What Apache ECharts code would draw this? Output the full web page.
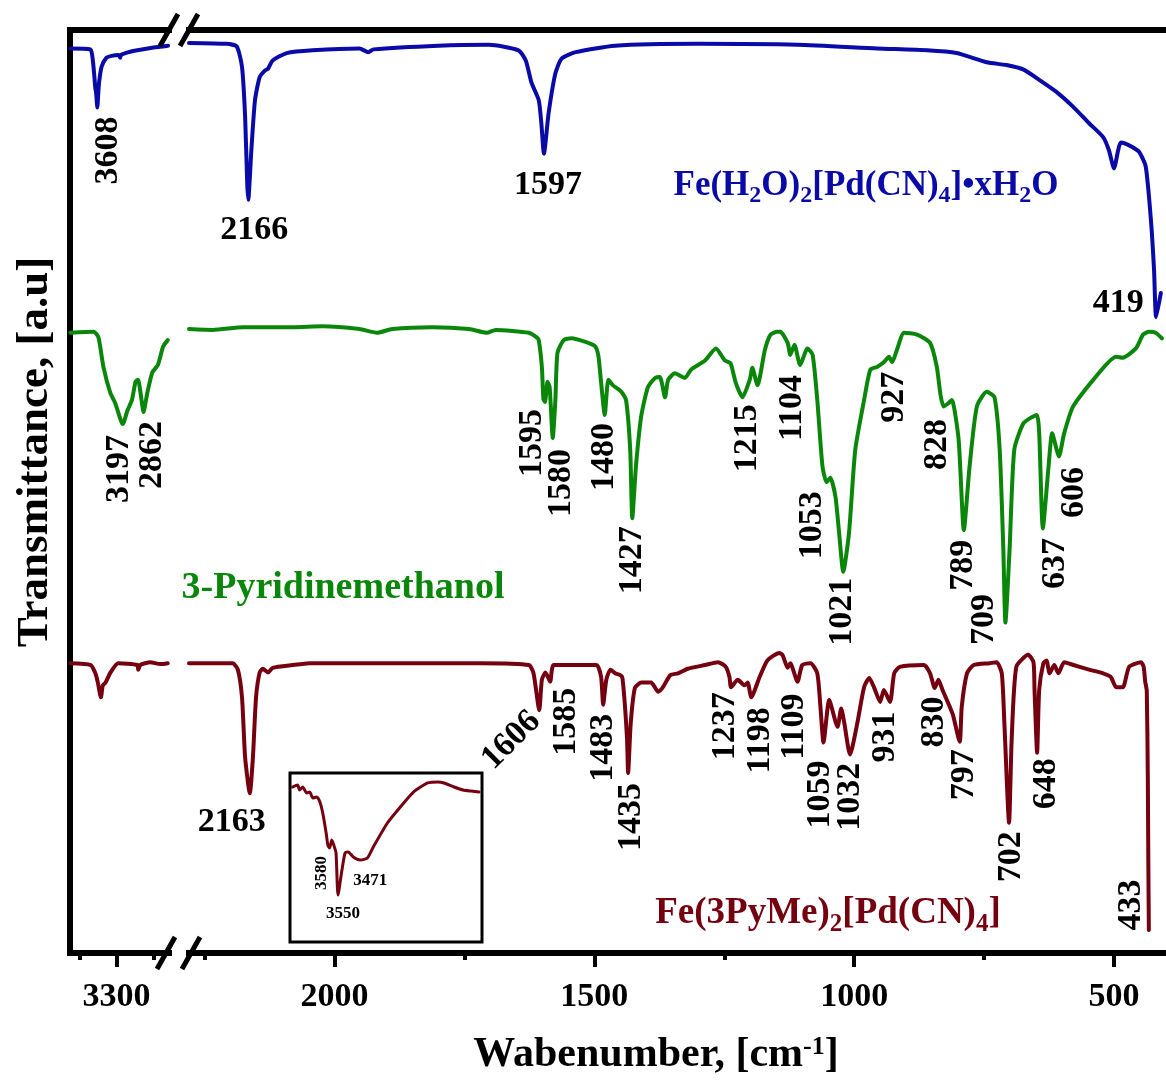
<!DOCTYPE html>
<html>
<head>
<meta charset="utf-8">
<title>FT-IR spectra</title>
<script src="https://cdn.jsdelivr.net/npm/echarts@6/dist/echarts.min.js"></script>
<style>
  html, body { margin: 0; padding: 0; background: #fff; }
  #chart { width: 1166px; height: 1080px; }
</style>
</head>
<body>
<div id="chart"></div>
<script>
// ---- spectra: [wavenumber (cm-1), transmittance (a.u., stacked)] ----
// high-wavenumber segment (left of the axis break)
const blueHigh = [
  [4045, 98.0], [3720, 97.9], [3690, 97.2], [3670, 96.0], [3652, 94.6], [3640, 93.7],
  [3628, 93.2], [3608, 91.6], [3590, 93.5], [3575, 94.6], [3540, 96.0], [3460, 97.0],
  [3380, 97.2], [3260, 97.3], [3240, 97.0], [3225, 97.3], [3100, 97.6], [2960, 97.8],
  [2700, 98.1], [2465, 98.3]
];
const greenHigh = [
  [4045, 67.2], [3667, 67.3], [3590, 66.7], [3510, 63.5], [3400, 60.7], [3320, 59.6],
  [3197, 57.3], [3120, 58.8], [3050, 59.9], [2990, 61.9], [2950, 62.1], [2900, 60.2],
  [2862, 58.6], [2800, 60.7], [2720, 62.9], [2630, 63.7], [2545, 65.7], [2470, 66.4]
];
const brownHigh = [
  [4045, 31.4], [3715, 31.2], [3640, 30.3], [3600, 29.3], [3550, 27.7], [3520, 29.0],
  [3475, 29.3], [3395, 30.4], [3270, 31.4], [2962, 31.2], [2946, 30.7], [2914, 31.2],
  [2754, 31.5], [2594, 31.3], [2470, 31.4]
];

// fingerprint segment (right of the axis break)
const blueLow = [
  [2280, 98.6], [2207, 98.5], [2188, 98.2], [2178, 96.0], [2172, 90.6], [2168, 83.4],
  [2166, 81.6], [2160, 87.0], [2153, 92.4], [2144, 94.9], [2134, 95.6], [2128, 95.8],
  [2119, 96.7], [2092, 97.5], [2042, 97.8], [1952, 98.0], [1935, 97.6], [1925, 97.9],
  [1800, 98.3], [1703, 98.4], [1646, 97.8], [1632, 96.7], [1621, 94.3], [1607, 92.4],
  [1602, 89.9], [1597, 86.6], [1588, 91.0], [1575, 95.3], [1563, 96.9], [1536, 97.6],
  [1460, 98.3], [1300, 98.5], [1109, 98.4], [956, 98.0], [860, 97.8], [803, 97.5],
  [745, 96.5], [707, 96.2], [674, 95.7], [644, 94.6], [611, 93.3], [579, 91.7],
  [548, 89.9], [521, 88.4], [510, 87.0], [500, 85.0], [492, 87.0], [487, 87.8],
  [471, 87.5], [452, 86.8], [439, 85.2], [429, 79.4], [423, 74.0], [419, 68.9],
  [410, 71.5]
];
const greenLow = [
  [2280, 67.6], [2234, 67.5], [2176, 67.8], [2080, 67.8], [2023, 67.9], [1952, 67.6],
  [1918, 67.2], [1889, 67.6], [1812, 67.8], [1741, 67.6], [1707, 67.2], [1690, 67.5],
  [1626, 67.2], [1611, 66.7], [1607, 66.4], [1601, 63.5], [1598, 60.0], [1595, 59.7],
  [1590, 61.9], [1586, 61.3], [1580, 55.8], [1575, 59.9], [1571, 65.0], [1559, 66.4],
  [1544, 66.6], [1517, 66.2], [1498, 65.7], [1492, 64.6], [1487, 61.8], [1480, 58.3],
  [1473, 62.1], [1464, 61.5], [1448, 60.8], [1439, 59.9], [1431, 54.5], [1427, 47.1],
  [1420, 52.7], [1410, 58.1], [1397, 61.3], [1383, 62.3], [1374, 62.4], [1364, 60.2],
  [1358, 62.1], [1345, 62.8], [1326, 62.3], [1314, 63.2], [1287, 64.2], [1266, 65.5],
  [1249, 64.2], [1238, 63.9], [1228, 61.8], [1215, 60.2], [1201, 62.1], [1196, 63.4],
  [1186, 61.5], [1172, 65.3], [1161, 67.0], [1148, 67.3], [1142, 67.3], [1128, 66.1],
  [1123, 64.8], [1115, 65.9], [1104, 63.7], [1090, 65.5], [1080, 64.8], [1071, 59.9],
  [1061, 52.7], [1053, 51.0], [1046, 51.5], [1036, 49.4], [1029, 45.5], [1021, 41.3],
  [1010, 45.5], [998, 54.5], [981, 59.9], [969, 63.2], [956, 63.5], [943, 64.0],
  [933, 64.6], [927, 64.0], [918, 65.3], [904, 67.2], [879, 67.0], [854, 66.1],
  [841, 63.5], [834, 60.5], [828, 59.2], [818, 59.6], [812, 59.9], [799, 55.6],
  [789, 45.8], [778, 52.7], [764, 59.2], [745, 60.8], [730, 60.2], [720, 54.5],
  [713, 43.7], [709, 35.8], [701, 43.7], [692, 54.5], [674, 57.4], [649, 58.3],
  [644, 56.3], [637, 46.0], [626, 52.7], [619, 56.3], [606, 53.8], [596, 56.3],
  [579, 59.2], [540, 62.1], [496, 64.6], [483, 64.5], [458, 65.5], [444, 67.0],
  [433, 67.3], [420, 67.2], [408, 66.6]
];
const brownLow = [
  [2280, 31.4], [2196, 31.4], [2186, 30.7], [2178, 27.7], [2172, 21.2], [2163, 17.3],
  [2157, 21.2], [2151, 27.7], [2144, 30.4], [2138, 30.8], [2128, 30.4], [2119, 30.9],
  [2081, 31.2], [2048, 31.4], [1850, 31.4], [1722, 31.4], [1626, 31.2], [1617, 30.3],
  [1606, 26.3], [1601, 29.6], [1594, 30.4], [1585, 29.4], [1578, 31.2], [1496, 31.2],
  [1487, 29.9], [1483, 26.9], [1477, 29.6], [1469, 30.7], [1460, 30.3], [1450, 30.1],
  [1446, 29.8], [1441, 26.7], [1437, 23.1], [1435, 19.5], [1430, 24.9], [1422, 28.7],
  [1410, 29.3], [1391, 29.3], [1377, 28.3], [1368, 28.8], [1354, 30.1], [1339, 30.3],
  [1320, 30.8], [1287, 31.2], [1262, 31.5], [1247, 31.0], [1240, 29.9], [1237, 28.8],
  [1224, 29.6], [1211, 29.0], [1205, 29.3], [1198, 27.7], [1182, 29.9], [1167, 31.7],
  [1144, 32.5], [1138, 32.3], [1128, 30.9], [1123, 31.4], [1109, 29.4], [1100, 31.2],
  [1084, 31.4], [1071, 30.3], [1065, 26.7], [1059, 22.8], [1048, 27.4], [1032, 24.5],
  [1025, 26.5], [1019, 24.9], [1008, 21.5], [994, 24.9], [981, 28.8], [971, 29.8],
  [962, 28.8], [950, 27.2], [943, 28.5], [931, 27.2], [923, 30.3], [912, 31.0],
  [866, 31.2], [854, 30.3], [845, 28.7], [838, 29.6], [830, 28.5], [820, 27.2],
  [810, 25.8], [797, 22.9], [793, 26.7], [783, 30.3], [770, 31.2], [740, 31.4],
  [726, 31.5], [716, 30.3], [711, 24.9], [702, 14.1], [697, 23.1], [688, 31.0],
  [665, 32.3], [655, 31.5], [653, 28.5], [648, 21.7], [644, 28.5], [636, 31.4],
  [630, 31.7], [624, 30.3], [615, 31.2], [607, 30.3], [596, 31.5], [578, 31.2],
  [548, 30.7], [521, 30.3], [506, 29.9], [496, 28.8], [483, 28.8], [471, 31.0],
  [448, 31.5], [443, 31.0], [440, 29.4], [437, 28.4], [435, 19.0], [434, 10.0],
  [433, 2.5]
];

// O-H stretching region of Fe(3PyMe)2[Pd(CN)4], shown enlarged
const insetOH = [
  [3711, 91.7], [3693, 92.9], [3686, 89.9], [3675, 91.7], [3661, 88.2], [3650, 88.8],
  [3639, 85.2], [3625, 85.8], [3614, 82.8], [3604, 76.3], [3592, 64.5], [3586, 57.4],
  [3580, 55.6], [3572, 60.4], [3565, 57.4], [3557, 52.7], [3550, 27.8], [3536, 42.6],
  [3525, 52.7], [3514, 53.3], [3496, 50.3], [3471, 48.5], [3446, 49.7], [3425, 56.2],
  [3375, 70.4], [3329, 79.9], [3282, 88.8], [3232, 94.1], [3196, 94.7], [3175, 94.1],
  [3139, 91.7], [3107, 89.9], [3079, 89.3], [3050, 88.8]
];

// labelled band positions (cm-1)
const bluePeaks  = [3608, 2166, 1597, 419];
const greenPeaks = [3197, 2862, 1595, 1580, 1480, 1427, 1215, 1104, 1053, 1021, 927, 828, 789, 709, 637, 606];
const brownPeaks = [2163, 1606, 1585, 1483, 1435, 1237, 1198, 1109, 1059, 1032, 931, 830, 797, 702, 648, 433];
const insetPeaks = [3580, 3550, 3471];

// axis ticks
const highMajorTicks = [3300];
const highMinorTicks = [3900, 2700];
const lowMajorTicks  = [2000, 1500, 1000, 500];
const lowMinorTicks  = [2250, 1750, 1250, 750];

// ---- styling / layout ----
const FONT = 'Liberation Serif';
const BLUE = '#0a0aa8';
const GREEN = '#0a870a';
const BROWN = '#75000f';

// label placement relative to each band minimum: [dx, dy, rotation deg]
const blueLabelPlace  = [[11, 43, 90], [6, 30, 0], [4, 32, 0], [-38, -14, 0]];
const greenLabelPlace = [[-4, 45, 90], [9, 43, 90], [-13, 41, 90], [8, 45, 90], [-1, 42, 90], [0, 42, 90],
  [5, 41, 90], [-8, 43, 90], [-14, 43, 90], [-1, 40, 90], [2, 35, 90], [-6, 38, 90], [-1, 35, 90],
  [-21, -3, 90], [12, 35, 90], [15, 36, 90]];
const brownLabelPlace = [[-18, 29, 0], [-28, 30, 45], [16, 40, 90], [0, 43, 90], [3, 44, 90], [-6, 39, 90],
  [9, 43, 90], [-3, 45, 90], [-3, 52, 90], [13, 70, 90], [-5, 35, 90], [-8, 32, 90], [5, 33, 90],
  [2, 34, 90], [9, 31, 90], [-18, -25, 90]];
const insetLabelPlace = [[-8, 25, 90], [5, 19, 0], [10, 21, 0]];

const frameLine = { show: true, lineStyle: { color: '#000', width: 6, cap: 'square' } };
const tickLabelStyle = {
  fontFamily: FONT, fontWeight: 'bold', fontSize: 34, color: '#000', margin: 27,
  formatter: function (v) { return String(v); }
};

function bottomAxis(grid, min, max, ticks, withLabels, tickLen) {
  return {
    gridIndex: grid, type: 'value', inverse: true, min: min, max: max,
    position: 'bottom', offset: 0,
    axisLine: withLabels ? frameLine : { show: false },
    axisTick: { show: true, customValues: ticks, length: tickLen, inside: false,
                lineStyle: { color: '#000', width: 4 } },
    axisLabel: withLabels ? Object.assign({ show: true, customValues: ticks }, tickLabelStyle) : { show: false },
    splitLine: { show: false }
  };
}
function topAxis(grid, min, max) {
  return {
    gridIndex: grid, type: 'value', inverse: true, min: min, max: max,
    position: 'top', offset: 0, axisLine: frameLine,
    axisTick: { show: false }, axisLabel: { show: false }, splitLine: { show: false }
  };
}

const chart = echarts.init(document.getElementById('chart'), null, { renderer: 'canvas' });

function line(data, xi, yi, color, width) {
  return {
    type: 'line', data: data, xAxisIndex: xi, yAxisIndex: yi,
    symbol: 'none', smooth: 0.2, animation: false, clip: false,
    lineStyle: { color: color, width: width, join: 'round', cap: 'round' }
  };
}

chart.setOption({
  animation: false,
  backgroundColor: '#fff',
  grid: [
    { left: 70, top: 30, width: 99, bottom: 127 },
    { left: 189, top: 30, right: -4, bottom: 127 },
    { left: 290, top: 773, width: 192, height: 169, show: true,
      borderColor: '#000', borderWidth: 3, backgroundColor: '#fff', z: 1 }
  ],
  xAxis: [
    bottomAxis(0, 2450, 4050, highMajorTicks, true, 14),
    bottomAxis(0, 2450, 4050, highMinorTicks, false, 7),
    topAxis(0, 2450, 4050),
    bottomAxis(1, 400, 2280, lowMajorTicks, true, 14),
    bottomAxis(1, 400, 2280, lowMinorTicks, false, 7),
    topAxis(1, 400, 2280),
    { gridIndex: 2, type: 'value', inverse: true, min: 3040, max: 3720, show: false }
  ],
  yAxis: [
    { gridIndex: 0, type: 'value', min: 0, max: 100, axisLine: frameLine,
      axisTick: { show: false }, axisLabel: { show: false }, splitLine: { show: false } },
    { gridIndex: 1, type: 'value', min: 0, max: 100, show: false },
    { gridIndex: 2, type: 'value', min: 0, max: 100, show: false }
  ],
  series: [
    line(blueHigh, 0, 0, BLUE, 4),
    line(blueLow, 3, 1, BLUE, 4),
    line(greenHigh, 0, 0, GREEN, 4),
    line(greenLow, 3, 1, GREEN, 4),
    line(brownHigh, 0, 0, BROWN, 4),
    line(brownLow, 3, 1, BROWN, 4),
    line(insetOH, 6, 2, BROWN, 3)
  ]
});

// ---- annotations placed from the data ----
function findPoint(parts, wn) {
  for (const part of parts) {
    for (const p of part.data) {
      if (p[0] === wn) return { p: p, part: part };
    }
  }
  return null;
}

function bandLabels(peaks, place, parts, fontSize) {
  const out = [];
  peaks.forEach(function (wn, i) {
    const hit = findPoint(parts, wn);
    if (!hit) return;
    const px = chart.convertToPixel({ xAxisIndex: hit.part.x, yAxisIndex: hit.part.y }, hit.p);
    const pl = place[i];
    out.push({
      type: 'text', x: px[0] + pl[0], y: px[1] + pl[1], rotation: pl[2] * Math.PI / 180, z: 10,
      style: {
        text: String(wn), fill: '#000',
        font: 'bold ' + fontSize + 'px "' + FONT + '"',
        align: 'center', verticalAlign: 'middle',
        textAlign: 'center', textVerticalAlign: 'middle'
      }
    });
  });
  return out;
}

// rich text: {m|...} main text, {s|...} subscript, {p|...} superscript
function richTitle(text, x, y, size, color, rotation) {
  const sub = Math.round(size * 0.68);
  const sup = Math.round(size * 0.62);
  return {
    type: 'text', x: x, y: y, rotation: rotation || 0, z: 10,
    style: {
      text: text, fill: color,
      font: 'bold ' + size + 'px "' + FONT + '"',
      align: 'center', verticalAlign: 'middle',
      textAlign: 'center', textVerticalAlign: 'middle',
      rich: {
        m: { fontFamily: FONT, fontWeight: 'bold', fontSize: size, fill: color,
             lineHeight: size, verticalAlign: 'top' },
        s: { fontFamily: FONT, fontWeight: 'bold', fontSize: sub, fill: color,
             lineHeight: Math.round(size * 0.5 + sub * 0.5 + size * 0.3), verticalAlign: 'bottom' },
        p: { fontFamily: FONT, fontWeight: 'bold', fontSize: sup, fill: color,
             lineHeight: sup, verticalAlign: 'top' }
      }
    }
  };
}

function breakMark(cx, cy) {
  return {
    type: 'line', z: 20,
    shape: { x1: cx - 9, y1: cy + 16, x2: cx + 9, y2: cy - 16 },
    style: { stroke: '#000', lineWidth: 5 }
  };
}

const highParts = (d) => ({ data: d, x: 0, y: 0 });
const lowParts = (d) => ({ data: d, x: 3, y: 1 });

const graphics = []
  .concat(bandLabels(bluePeaks, blueLabelPlace, [highParts(blueHigh), lowParts(blueLow)], 34))
  .concat(bandLabels(greenPeaks, greenLabelPlace, [highParts(greenHigh), lowParts(greenLow)], 34))
  .concat(bandLabels(brownPeaks, brownLabelPlace, [highParts(brownHigh), lowParts(brownLow)], 34))
  .concat(bandLabels(insetPeaks, insetLabelPlace, [{ data: insetOH, x: 6, y: 2 }], 17))
  .concat([
    breakMark(169, 30), breakMark(189, 30),
    breakMark(166, 953), breakMark(191, 953),
    richTitle('{m|Fe(H}{s|2}{m|O)}{s|2}{m|[Pd(CN)}{s|4}{m|]•xH}{s|2}{m|O}', 866, 188, 35, BLUE),
    richTitle('{m|3-Pyridinemethanol}', 343, 588, 38, GREEN),
    richTitle('{m|Fe(3PyMe)}{s|2}{m|[Pd(CN)}{s|4}{m|]}', 828, 916, 37, BROWN),
    richTitle('{m|Wabenumber, [cm}{p|-1}{m|]}', 656, 1055, 42, '#000'),
    richTitle('{m|Transmittance, [a.u]}', 35, 452, 45, '#000', Math.PI / 2)
  ]);

chart.setOption({ graphic: { elements: graphics } });
</script>
</body>
</html>
